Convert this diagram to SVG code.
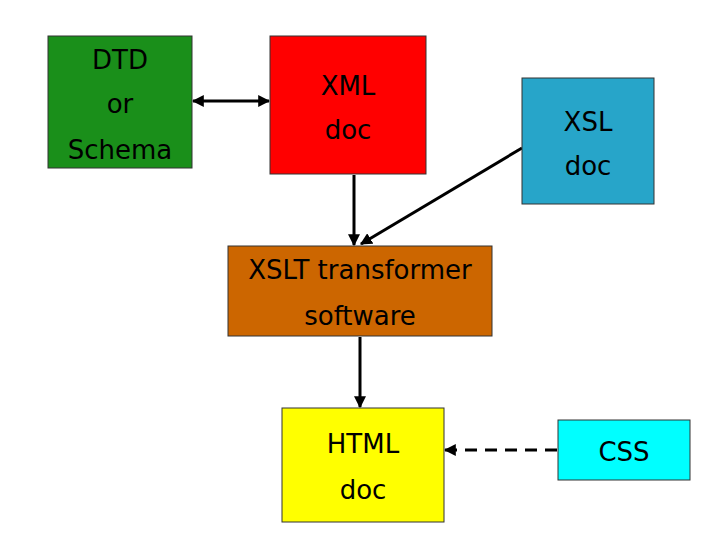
<svg xmlns="http://www.w3.org/2000/svg" width="720" height="540" viewBox="0 0 720 540">
<style>
.box{stroke:#333;stroke-width:1}
text{font-family:"DejaVu Sans","Liberation Sans",sans-serif;font-size:26px;text-anchor:middle;fill:#000}
.c{stroke:#000;stroke-width:3;fill:none}
</style>
<defs>
<marker id="ah" viewBox="0 0 10 10" refX="9" refY="5" markerWidth="4" markerHeight="4" orient="auto-start-reverse"><path d="M0,0L10,5L0,10z" fill="#000"/></marker>
</defs>
<rect width="720" height="540" fill="#fff"/>
<g id="connectors">
<line class="c" x1="193" y1="101" x2="269" y2="101" marker-start="url(#ah)" marker-end="url(#ah)"/>
<line class="c" x1="354" y1="175" x2="354" y2="245" marker-end="url(#ah)"/>
<line class="c" x1="522" y1="148" x2="361" y2="244" marker-end="url(#ah)"/>
<line class="c" x1="360" y1="337" x2="360" y2="407" marker-end="url(#ah)"/>
<line class="c" x1="557" y1="450" x2="445" y2="450" stroke-dasharray="12,8" marker-end="url(#ah)"/>
</g>
<g id="dtd"><rect class="box" x="48" y="36" width="144" height="132" fill="#1a8f1a"/>
<text x="120" y="69">DTD</text><text x="120" y="113">or</text><text x="120" y="159">Schema</text></g>
<g id="xml"><rect class="box" x="270" y="36" width="156" height="138" fill="#ff0000"/>
<text x="348" y="95">XML</text><text x="348" y="139">doc</text></g>
<g id="xsl"><rect class="box" x="522" y="78" width="132" height="126" fill="#27a5c9"/>
<text x="588" y="131">XSL</text><text x="588" y="175">doc</text></g>
<g id="xslt"><rect class="box" x="228" y="246" width="264" height="90" fill="#cc6600"/>
<text x="360" y="279">XSLT transformer</text><text x="360" y="325">software</text></g>
<g id="html"><rect class="box" x="282" y="408" width="162" height="114" fill="#ffff00"/>
<text x="363" y="453">HTML</text><text x="363" y="499">doc</text></g>
<g id="css"><rect class="box" x="558" y="420" width="132" height="60" fill="#00ffff"/>
<text x="624" y="461">CSS</text></g>
</svg>
